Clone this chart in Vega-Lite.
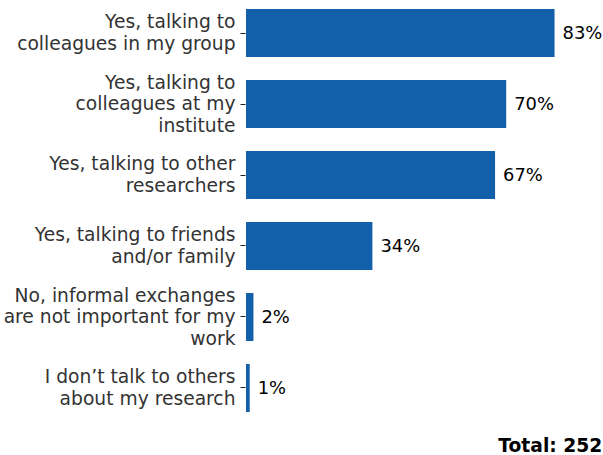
{
  "$schema": "https://vega.github.io/schema/vega-lite/v6.json",
  "autosize": {"type": "none"},
  "padding": {"left": 246, "top": 0, "right": 2, "bottom": 34},
  "width": 355,
  "height": 421,
  "background": "white",
  "title": {
    "text": "Total: 252",
    "orient": "bottom",
    "anchor": "end",
    "font": "DejaVu Sans",
    "fontSize": 18.7,
    "fontWeight": "bold",
    "color": "black",
    "baseline": "top",
    "offset": 16
  },
  "data": {
    "values": [
      {"answer": "Yes, talking to|colleagues in my group", "share": 0.83, "order": 1},
      {"answer": "Yes, talking to|colleagues at my|institute", "share": 0.70, "order": 2},
      {"answer": "Yes, talking to other|researchers", "share": 0.67, "order": 3},
      {"answer": "Yes, talking to friends|and/or family", "share": 0.34, "order": 4},
      {"answer": "No, informal exchanges|are not important for my|work", "share": 0.02, "order": 5},
      {"answer": "I don’t talk to others|about my research", "share": 0.01, "order": 6}
    ]
  },
  "encoding": {
    "y": {
      "field": "answer",
      "type": "nominal",
      "sort": {"field": "order"},
      "title": null,
      "scale": {"paddingInner": 0.324, "paddingOuter": 0.127},
      "axis": {
        "domain": false,
        "ticks": true,
        "tickSize": 5,
        "tickColor": "#222222",
        "tickWidth": 1,
        "offset": 1,
        "labelPadding": 5,
        "labelFont": "DejaVu Sans",
        "labelFontSize": 18.7,
        "labelColor": "#333333",
        "labelLimit": 0,
        "labelLineHeight": 21.7,
        "labelBaseline": "middle",
        "labelOffset": {"condition": {"test": "length(split(datum.label, '|')) == 3", "value": -21.2}, "value": -10.6},
        "labelExpr": "split(datum.label, '|')"
      }
    },
    "x": {
      "field": "share",
      "type": "quantitative",
      "scale": {"domain": [0, 0.955], "nice": false},
      "axis": null
    }
  },
  "layer": [
    {"mark": {"type": "bar", "color": "#125FAA"}},
    {
      "mark": {"type": "text", "align": "left", "baseline": "middle", "dx": 8, "dy": 1, "font": "DejaVu Sans", "fontSize": 17.9, "color": "black"},
      "encoding": {"text": {"field": "share", "type": "quantitative", "format": ".0%"}}
    }
  ],
  "config": {"view": {"stroke": null}}
}
